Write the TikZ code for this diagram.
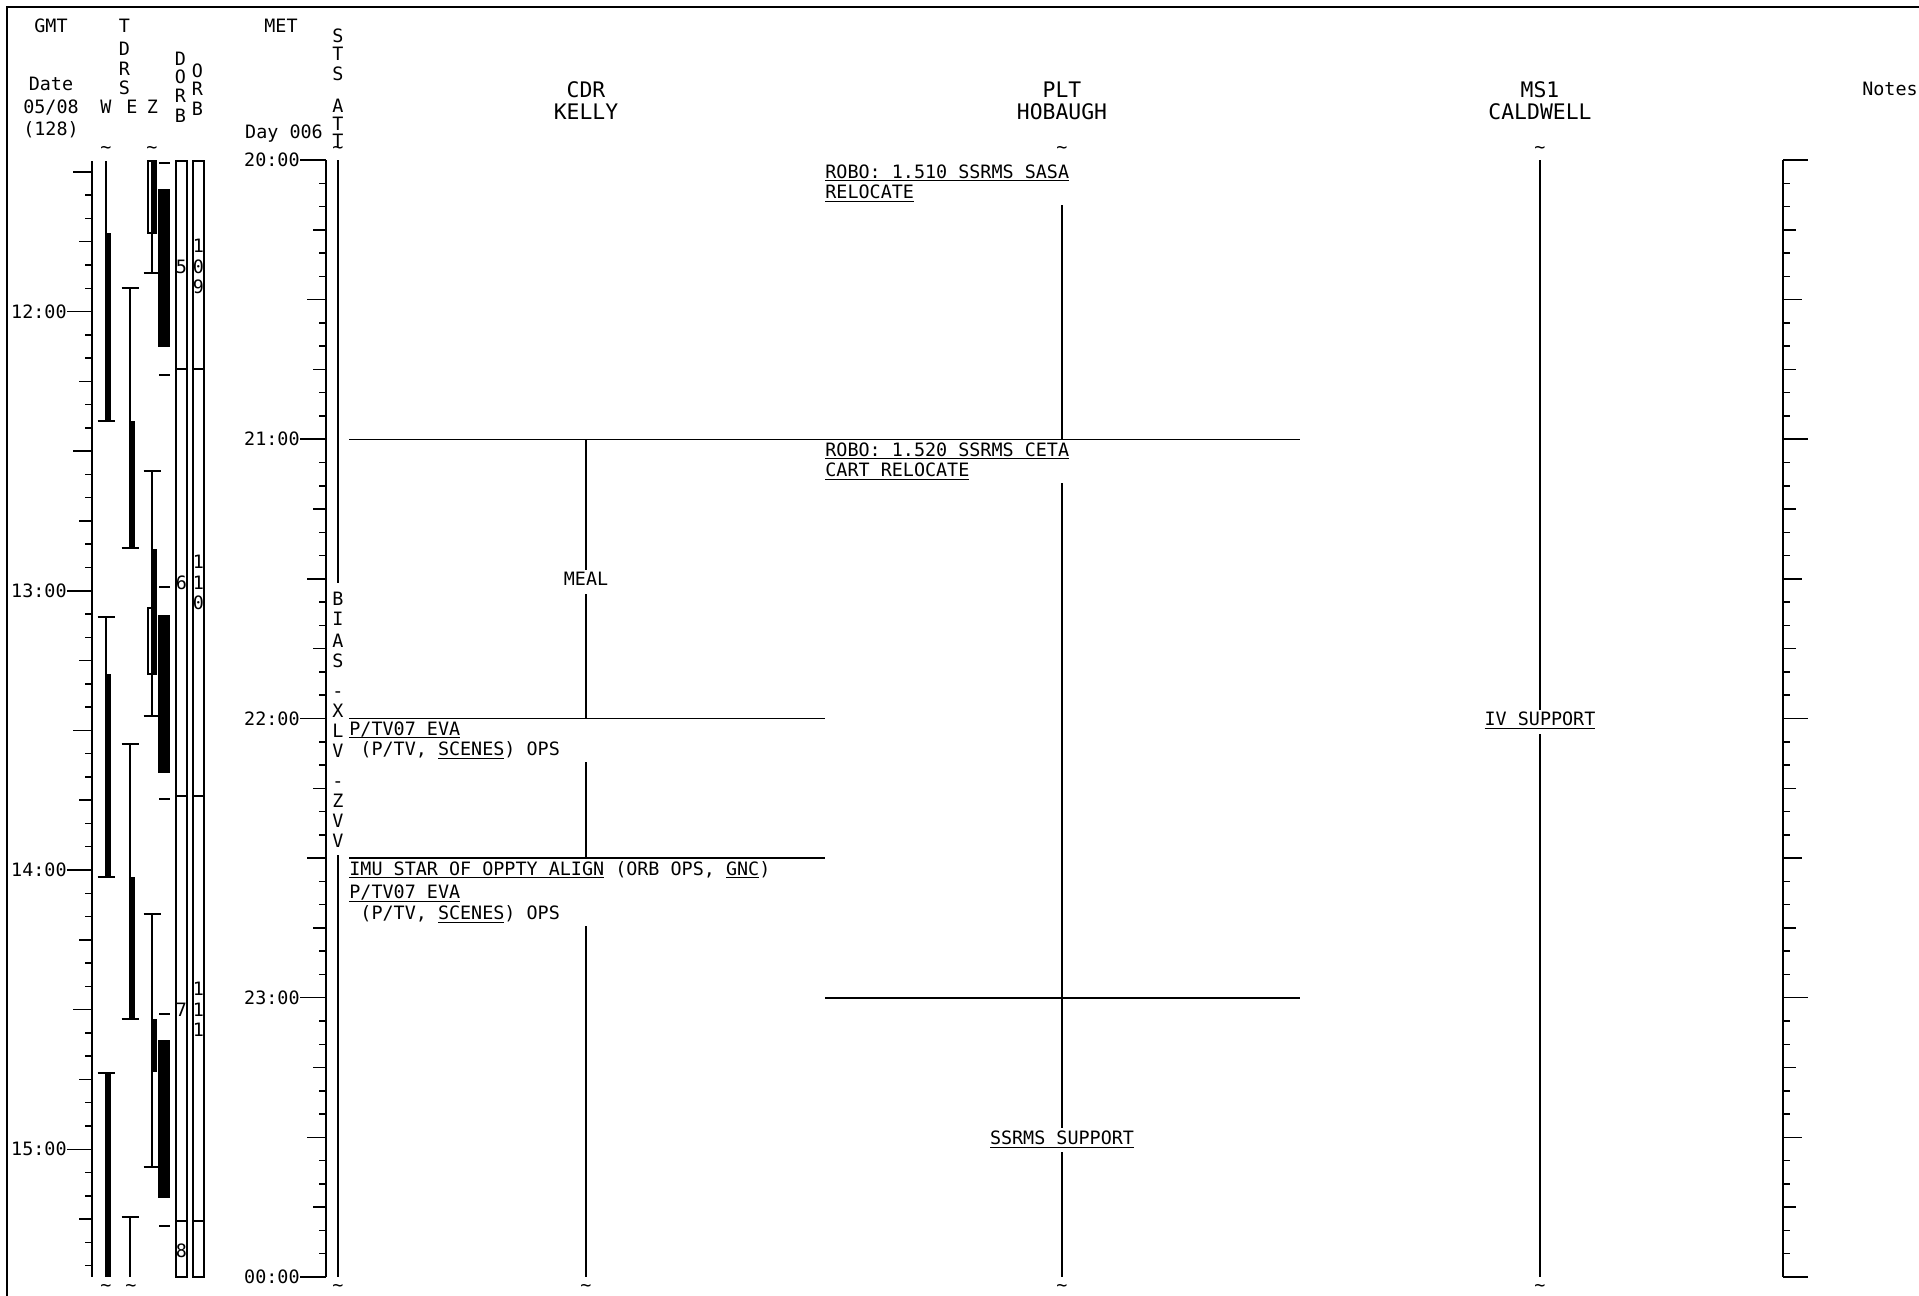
\documentclass[tikz,border=0pt]{standalone}
\usepackage{fontspec}
\setmainfont{DejaVu Sans Mono}
\usetikzlibrary{positioning}

\newcommand{\ul}[1]{\underline{\raisebox{0pt}[\height][0pt]{#1}}}

\begin{document}
\begin{tikzpicture}[
    x=0.5pt, y=-0.5pt,
    every node/.style={font=\fontsize{9.2}{10}\selectfont, inner sep=0pt, text height=7pt, text depth=3pt},
    hdr/.style={font=\fontsize{10.7}{11}\selectfont, anchor=base},
    rul/.style={line width=0.75pt},
    heavy/.style={line width=1.4pt},
    act/.style={anchor=base west},
    lbl/.style={fill=white, inner ysep=1pt, yshift=-1.5pt},
    tlbl/.style={anchor=east, text height=6.7pt, text depth=0pt},
    chr/.style={anchor=base, text height=6.7pt, text depth=0pt},
]
    \useasboundingbox (0,0) rectangle (1919,1296);
    \draw[line width=1pt] (7,1296) -- (7,7) -- (1919,7);

    % event times and column positions
    \coordinate (m20) at (0,160);
    \coordinate (m21) at (0,439.25);
    \coordinate (m22) at (0,718.5);
    \coordinate (m2230) at (0,858.1);
    \coordinate (m23) at (0,997.75);
    \coordinate (m24) at (0,1277);
    \coordinate (cdrl) at (349,0);
    \coordinate (cdr) at (586,0);
    \coordinate (pltl) at (825,0);
    \coordinate (plt) at (1062,0);
    \coordinate (pltr) at (1300,0);
    \coordinate (ms1) at (1540,0);

    % left headers
    \node[chr] (gmt) at (51,32) {GMT};
    \node[chr] (date) at (51,90) {Date};
    \node[chr] (dd) at (51,113) {05/08};
    \node[chr] (doy) at (51,135) {(128)};
    \foreach \ch/\yy in {T/32, D/55, R/75, S/94}
        \node[chr] (tdrs\yy) at (124.5,\yy) {\ch};
    \node[chr] (hw) at (106,113) {W};
    \node[chr] (he) at (132,113) {E};
    \node[chr] (hz) at (152.5,113) {Z};
    \foreach \ch/\yy in {D/65, O/83, R/102, B/122}
        \node[chr] (dorbh\yy) at (180.5,\yy) {\ch};
    \foreach \ch/\yy in {O/77, R/95, B/115}
        \node[chr] (orbh\yy) at (197.5,\yy) {\ch};
    \node[chr] (met) at (281,32) {MET};
    \node[chr] (day) at (284,138) {Day 006};
    \foreach \ch/\yy in {S/42, T/60, S/80, A/112, T/130}
        \node[chr] (atth\yy) at (338,\yy) {\ch};
    \node[chr, text height=5pt] (atth147) at (338,147) {\makebox[0pt][l]{\raisebox{-3pt}{\textasciitilde}}T};

    % crew headers
    \node[hdr] (cdrh) at (586,97) {CDR};
    \node[hdr, below=1pt of cdrh] (kelly) {KELLY};
    \node[hdr] (plth) at (1062,97) {PLT};
    \node[hdr, below=1pt of plth] (hobaugh) {HOBAUGH};
    \node[hdr] (ms1h) at (1540,97) {MS1};
    \node[hdr, below=1pt of ms1h] (caldwell) {CALDWELL};
    \node[chr] (notes) at (1890,95) {Notes};

    % tildes
    \foreach \xx/\yy [count=\i] in {106/147, 152/147, 1062/147, 1540/147,
                                    106/1285, 131/1285, 338/1285, 586/1285, 1062/1285, 1540/1285}
        \node[chr] (tld\i) at (\xx,\yy+6) {\textasciitilde};

    % GMT axis
    \draw[rul] (92,161) -- (92,1277);
    \foreach \lab/\m in {12:00/30, 13:00/90, 14:00/150, 15:00/210} {
        \node[tlbl] (gmt\m) at (67,{171.9+4.654*\m}) {\lab};
        \draw[rul] (gmt\m.east) -- (92,{171.9+4.654*\m});
    }
    \foreach \m in {0,5,...,235} {
        \pgfmathtruncatemacro\r{mod(\m+30,60)}
        \pgfmathsetmacro\len{\r==30 ? 19 : ((\r==15 || \r==45) ? 13 : 7)}
        \draw[rul] (92,{171.9+4.654*\m}) -- ++(-\len,0);
    }

    % TDRS passes
    \foreach \xx/\a/\b in {106/161/421, 106/617/877, 106/1073/1277, 130/288/548,
                           130/744/1019, 130/1217/1277, 152/161/273, 152/471/716, 152/914/1167}
        \draw[rul] (\xx,\a) -- (\xx,\b);
    \foreach \xx/\a/\b in {106/233/421, 106/674/877, 106/1073/1277, 130/421/548,
                           130/877/1019, 152/161/233, 152/549/674, 152/1019/1072}
        \fill (\xx-0.5,\a) rectangle (\xx+4.5,\b);
    \foreach \xx/\yy in {106/421, 106/617, 106/877, 106/1073, 130/288, 130/548, 130/744,
                         130/1019, 130/1217, 152/273, 152/471, 152/716, 152/914, 152/1167}
        \draw[rul] (\xx-8.5,\yy) -- (\xx+8.5,\yy);
    \foreach \a/\b in {161/233, 608/674}
        \draw[rul] (148,\a) rectangle (156.5,\b);

    % day/night marks
    \foreach \yy in {163, 375, 587, 799, 1014, 1226}
        \draw[rul] (159,\yy) -- (170,\yy);
    \foreach \a/\b in {189/347, 615/773, 1040/1198}
        \fill (158,\a) rectangle (170,\b);

    % orbit columns
    \draw[rul] (176,161) rectangle (187,1277);
    \draw[rul] (193,161) rectangle (204,1277);
    \foreach \yy in {369, 796, 1221}
        \draw[rul] (176,\yy) -- (187,\yy) (193,\yy) -- (204,\yy);
    \foreach \d/\a/\b/\c/\yy [count=\i] in {5/1/0/9/273, 6/1/1/0/589, 7/1/1/1/1016} {
        \node[chr] (dorb\i) at (181.5,\yy) {\d};
        \node[chr] (orb\i a) at (198.5,\yy-20.5) {\a};
        \node[chr] (orb\i b) at (198.5,\yy) {\b};
        \node[chr] (orb\i c) at (198.5,\yy+20.5) {\c};
    }
    \node[chr] (dorb4) at (181.5,1257) {8};

    % MET axis
    \draw[rul] (326,160) -- (326,1277);
    \foreach \lab/\m in {20:00/0, 21:00/60, 22:00/120, 23:00/180, 00:00/240} {
        \node[tlbl] (met\m) at (300,{160+4.654*\m}) {\lab};
        \draw[rul] (met\m.east) -- (326,{160+4.654*\m});
    }
    \foreach \m in {5,10,...,235} {
        \pgfmathtruncatemacro\r{mod(\m,60)}
        \pgfmathsetmacro\len{\r==0 ? 7 : (\r==30 ? 19 : ((\r==15 || \r==45) ? 13 : 7))}
        \draw[rul] (326,{160+4.654*\m}) -- ++(-\len,0);
    }

    % STS attitude
    \draw[heavy] (338,160) -- (338,583);
    \foreach \ch/\yy [count=\i] in {B/605, I/625, A/647, S/667, -/697, X/717, L/737, V/757,
                                    -/787, Z/807, V/827, V/847}
        \node[chr] (bias\i) at (338,\yy) {\ch};
    \draw[heavy] (338,855) -- (338,1277);

    % CDR
    \draw[rul] (cdrl |- m21) -- (pltr |- m21);
    \draw[rul] (cdr |- m21) -- (cdr |- m22) node[lbl, midway] (meal) {MEAL};
    \draw[rul] (cdrl |- m22) -- (pltl |- m22);
    \node[act] (ptv1) at (349,735) {\ul{P/TV07 EVA}};
    \node[below right=0pt and 0pt of ptv1.south west] (ops1) {\ (P/TV, \ul{SCENES}) OPS};
    \draw[rul] (cdr |- ops1.south) -- (cdr |- m2230);
    \draw[rul] (cdrl |- m2230) -- (pltl |- m2230);
    \node[act] (imu) at (349,875) {\ul{IMU STAR OF OPPTY ALIGN} (ORB OPS, \ul{GNC})};
    \node[below right=1.5pt and 0pt of imu.south west] (ptv2) {\ul{P/TV07 EVA}};
    \node[below right=0pt and 0pt of ptv2.south west] (ops2) {\ (P/TV, \ul{SCENES}) OPS};
    \draw[rul] (cdr |- ops2.south) -- (cdr |- m24);

    % PLT
    \node[act] (robo1) at (825,178) {\ul{ROBO: 1.510 SSRMS SASA}};
    \node[below right=0pt and 0pt of robo1.south west] (robo1b) {\ul{RELOCATE}};
    \draw[rul] (plt |- robo1b.south) -- (plt |- m21);
    \node[act] (robo2) at (825,456) {\ul{ROBO: 1.520 SSRMS CETA}};
    \node[below right=0pt and 0pt of robo2.south west] (robo2b) {\ul{CART RELOCATE}};
    \draw[rul] (plt |- robo2b.south) -- (plt |- m23);
    \draw[rul] (pltl |- m23) -- (pltr |- m23);
    \draw[rul] (plt |- m23) -- (plt |- m24) node[lbl, midway] (ssrms) {\ul{SSRMS SUPPORT}};

    % MS1
    \draw[rul] (ms1 |- m20) -- (ms1 |- m24) node[lbl, midway] (ivs) {\ul{IV SUPPORT}};

    % Notes axis
    \draw[rul] (1783,160) -- (1783,1277);
    \foreach \m in {0,5,...,240} {
        \pgfmathtruncatemacro\r{mod(\m,60)}
        \pgfmathsetmacro\len{\r==0 ? 25 : (\r==30 ? 19 : ((\r==15 || \r==45) ? 13 : 7))}
        \draw[rul] (1783,{160+4.654*\m}) -- ++(\len,0);
    }
\end{tikzpicture}
\end{document}
